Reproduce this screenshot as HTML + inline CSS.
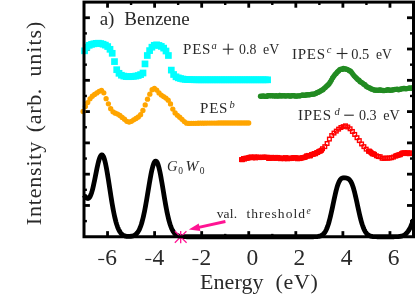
<!DOCTYPE html>
<html><head><meta charset="utf-8"><title>Benzene</title>
<style>html,body{margin:0;padding:0;background:#fff;}body{width:415px;height:296px;overflow:hidden;font-family:"Liberation Serif",serif;}svg text,.t{font-family:"Liberation Serif",serif;}</style>
</head><body>
<svg width="415" height="296" viewBox="0 0 415 296" style="display:block">
<rect width="415" height="296" fill="#fff"/>
<defs><clipPath id="ax"><rect x="84" y="2.1" width="329.5" height="234.65"/></clipPath></defs>
<g stroke="#000" fill="none"><line x1="107.54" y1="236.75" x2="107.54" y2="231.15" stroke-width="2.8"/><line x1="107.54" y1="2.1" x2="107.54" y2="7.7" stroke-width="2.8"/><line x1="131.07" y1="236.75" x2="131.07" y2="233.85" stroke-width="2.4"/><line x1="131.07" y1="2.1" x2="131.07" y2="5" stroke-width="2.4"/><line x1="154.61" y1="236.75" x2="154.61" y2="231.15" stroke-width="2.8"/><line x1="154.61" y1="2.1" x2="154.61" y2="7.7" stroke-width="2.8"/><line x1="178.14" y1="236.75" x2="178.14" y2="233.85" stroke-width="2.4"/><line x1="178.14" y1="2.1" x2="178.14" y2="5" stroke-width="2.4"/><line x1="201.68" y1="236.75" x2="201.68" y2="231.15" stroke-width="2.8"/><line x1="201.68" y1="2.1" x2="201.68" y2="7.7" stroke-width="2.8"/><line x1="225.21" y1="236.75" x2="225.21" y2="233.85" stroke-width="2.4"/><line x1="225.21" y1="2.1" x2="225.21" y2="5" stroke-width="2.4"/><line x1="248.75" y1="236.75" x2="248.75" y2="231.15" stroke-width="2.8"/><line x1="248.75" y1="2.1" x2="248.75" y2="7.7" stroke-width="2.8"/><line x1="272.29" y1="236.75" x2="272.29" y2="233.85" stroke-width="2.4"/><line x1="272.29" y1="2.1" x2="272.29" y2="5" stroke-width="2.4"/><line x1="295.82" y1="236.75" x2="295.82" y2="231.15" stroke-width="2.8"/><line x1="295.82" y1="2.1" x2="295.82" y2="7.7" stroke-width="2.8"/><line x1="319.36" y1="236.75" x2="319.36" y2="233.85" stroke-width="2.4"/><line x1="319.36" y1="2.1" x2="319.36" y2="5" stroke-width="2.4"/><line x1="342.89" y1="236.75" x2="342.89" y2="231.15" stroke-width="2.8"/><line x1="342.89" y1="2.1" x2="342.89" y2="7.7" stroke-width="2.8"/><line x1="366.43" y1="236.75" x2="366.43" y2="233.85" stroke-width="2.4"/><line x1="366.43" y1="2.1" x2="366.43" y2="5" stroke-width="2.4"/><line x1="389.96" y1="236.75" x2="389.96" y2="231.15" stroke-width="2.8"/><line x1="389.96" y1="2.1" x2="389.96" y2="7.7" stroke-width="2.8"/><line x1="84" y1="17.74" x2="89.9" y2="17.74" stroke-width="2.8"/><line x1="413.5" y1="17.74" x2="407" y2="17.74" stroke-width="2.8"/><line x1="84" y1="33.39" x2="86.9" y2="33.39" stroke-width="2.4"/><line x1="413.5" y1="33.39" x2="410" y2="33.39" stroke-width="2.4"/><line x1="84" y1="49.03" x2="89.9" y2="49.03" stroke-width="2.8"/><line x1="413.5" y1="49.03" x2="407" y2="49.03" stroke-width="2.8"/><line x1="84" y1="64.67" x2="86.9" y2="64.67" stroke-width="2.4"/><line x1="413.5" y1="64.67" x2="410" y2="64.67" stroke-width="2.4"/><line x1="84" y1="80.32" x2="89.9" y2="80.32" stroke-width="2.8"/><line x1="413.5" y1="80.32" x2="407" y2="80.32" stroke-width="2.8"/><line x1="84" y1="95.96" x2="86.9" y2="95.96" stroke-width="2.4"/><line x1="413.5" y1="95.96" x2="410" y2="95.96" stroke-width="2.4"/><line x1="84" y1="111.6" x2="89.9" y2="111.6" stroke-width="2.8"/><line x1="413.5" y1="111.6" x2="407" y2="111.6" stroke-width="2.8"/><line x1="84" y1="127.25" x2="86.9" y2="127.25" stroke-width="2.4"/><line x1="413.5" y1="127.25" x2="410" y2="127.25" stroke-width="2.4"/><line x1="84" y1="142.89" x2="89.9" y2="142.89" stroke-width="2.8"/><line x1="413.5" y1="142.89" x2="407" y2="142.89" stroke-width="2.8"/><line x1="84" y1="158.53" x2="86.9" y2="158.53" stroke-width="2.4"/><line x1="413.5" y1="158.53" x2="410" y2="158.53" stroke-width="2.4"/><line x1="84" y1="174.18" x2="89.9" y2="174.18" stroke-width="2.8"/><line x1="413.5" y1="174.18" x2="407" y2="174.18" stroke-width="2.8"/><line x1="84" y1="189.82" x2="86.9" y2="189.82" stroke-width="2.4"/><line x1="413.5" y1="189.82" x2="410" y2="189.82" stroke-width="2.4"/><line x1="84" y1="205.46" x2="89.9" y2="205.46" stroke-width="2.8"/><line x1="413.5" y1="205.46" x2="407" y2="205.46" stroke-width="2.8"/><line x1="84" y1="221.11" x2="86.9" y2="221.11" stroke-width="2.4"/><line x1="413.5" y1="221.11" x2="410" y2="221.11" stroke-width="2.4"/></g>
<path d="M84 195.11 L84.5 195.77 L85 196.41 L85.5 197.01 L86 197.54 L86.5 197.98 L87 198.3 L87.5 198.47 L88 198.49 L88.5 198.33 L89 197.97 L89.5 197.41 L90 196.64 L90.5 195.65 L91 194.43 L91.5 193.01 L92 191.38 L92.5 189.55 L93 187.55 L93.5 185.39 L94 183.1 L94.5 180.7 L95 178.23 L95.5 175.71 L96 173.19 L96.5 170.7 L97 168.28 L97.5 165.95 L98 163.77 L98.5 161.76 L99 159.96 L99.5 158.39 L100 157.08 L100.5 156.07 L101 155.35 L101.5 154.96 L102 154.9 L102.5 155.18 L103 155.79 L103.5 156.73 L104 158 L104.5 159.57 L105 161.43 L105.5 163.57 L106 165.94 L106.5 168.54 L107 171.32 L107.5 174.26 L108 177.33 L108.5 180.49 L109 183.71 L109.5 186.97 L110 190.22 L110.5 193.46 L111 196.64 L111.5 199.75 L112 202.77 L112.5 205.68 L113 208.46 L113.5 211.11 L114 213.61 L114.5 215.95 L115 218.14 L115.5 220.17 L116 222.05 L116.5 223.77 L117 225.33 L117.5 226.76 L118 228.04 L118.5 229.19 L119 230.22 L119.5 231.13 L120 231.94 L120.5 232.64 L121 233.26 L121.5 233.8 L122 234.27 L122.5 234.67 L123 235.01 L123.5 235.3 L124 235.55 L124.5 235.75 L125 235.93 L125.5 236.07 L126 236.18 L126.5 236.27 L127 236.34 L127.5 236.4 L128 236.43 L128.5 236.45 L129 236.46 L129.5 236.45 L130 236.43 L130.5 236.39 L131 236.33 L131.5 236.25 L132 236.16 L132.5 236.03 L133 235.89 L133.5 235.71 L134 235.5 L134.5 235.24 L135 234.94 L135.5 234.59 L136 234.19 L136.5 233.71 L137 233.17 L137.5 232.54 L138 231.83 L138.5 231.02 L139 230.11 L139.5 229.08 L140 227.94 L140.5 226.67 L141 225.26 L141.5 223.72 L142 222.03 L142.5 220.2 L143 218.22 L143.5 216.09 L144 213.82 L144.5 211.41 L145 208.87 L145.5 206.21 L146 203.44 L146.5 200.58 L147 197.64 L147.5 194.65 L148 191.62 L148.5 188.59 L149 185.58 L149.5 182.62 L150 179.74 L150.5 176.96 L151 174.32 L151.5 171.85 L152 169.57 L152.5 167.52 L153 165.72 L153.5 164.18 L154 162.93 L154.5 162 L155 161.37 L155.5 161.08 L156 161.11 L156.5 161.47 L157 162.16 L157.5 163.16 L158 164.46 L158.5 166.06 L159 167.91 L159.5 170.01 L160 172.33 L160.5 174.84 L161 177.5 L161.5 180.31 L162 183.21 L162.5 186.18 L163 189.2 L163.5 192.23 L164 195.25 L164.5 198.23 L165 201.16 L165.5 204 L166 206.75 L166.5 209.39 L167 211.91 L167.5 214.29 L168 216.53 L168.5 218.63 L169 220.58 L169.5 222.38 L170 224.04 L170.5 225.55 L171 226.93 L171.5 228.18 L172 229.3 L172.5 230.3 L173 231.19 L173.5 231.98 L174 232.68 L174.5 233.28 L175 233.82 L175.5 234.28 L176 234.67 L176.5 235.01 L177 235.3 L177.5 235.55 L178 235.76 L178.5 235.94 L179 236.09 L179.5 236.21 L180 236.31 L180.5 236.4 L181 236.47 L181.5 236.52 L182 236.57 L182.5 236.61 L183 236.64 L183.5 236.66 L184 236.68 L184.5 236.7 L185 236.71 L185.5 236.72 L186 236.72 L186.5 236.73 L187 236.74 L187.5 236.74 L188 236.74 L188.5 236.74 L189 236.75 L189.5 236.75 L190 236.75 L190.5 236.75 L191 236.75 L191.5 236.75 L192 236.75 L192.5 236.75 L193 236.75 L193.5 236.75 L194 236.75 L194.5 236.75 L195 236.75 L195.5 236.75 L196 236.75 L196.5 236.75 L197 236.75 L197.5 236.75 L198 236.75 L198.5 236.75 L199 236.75 L199.5 236.75 L200 236.75 L200.5 236.75 L201 236.75 L201.5 236.75 L202 236.75 L202.5 236.75 L203 236.75 L203.5 236.75 L204 236.75 L204.5 236.75 L205 236.75 L205.5 236.75 L206 236.75 L206.5 236.75 L207 236.75 L207.5 236.75 L208 236.75 L208.5 236.75 L209 236.75 L209.5 236.75 L210 236.75 L210.5 236.75 L211 236.75 L211.5 236.75 L212 236.75 L212.5 236.75 L213 236.75 L213.5 236.75 L214 236.75 L214.5 236.75 L215 236.75 L215.5 236.75 L216 236.75 L216.5 236.75 L217 236.75 L217.5 236.75 L218 236.75 L218.5 236.75 L219 236.75 L219.5 236.75 L220 236.75 L220.5 236.75 L221 236.75 L221.5 236.75 L222 236.75 L222.5 236.75 L223 236.75 L223.5 236.75 L224 236.75 L224.5 236.75 L225 236.75 L225.5 236.75 L226 236.75 L226.5 236.75 L227 236.75 L227.5 236.75 L228 236.75 L228.5 236.75 L229 236.75 L229.5 236.75 L230 236.75 L230.5 236.75 L231 236.75 L231.5 236.75 L232 236.75 L232.5 236.75 L233 236.75 L233.5 236.75 L234 236.75 L234.5 236.75 L235 236.75 L235.5 236.75 L236 236.75 L236.5 236.75 L237 236.75 L237.5 236.75 L238 236.75 L238.5 236.75 L239 236.75 L239.5 236.75 L240 236.75 L240.5 236.75 L241 236.75 L241.5 236.75 L242 236.75 L242.5 236.75 L243 236.75 L243.5 236.75 L244 236.75 L244.5 236.75 L245 236.75 L245.5 236.75 L246 236.75 L246.5 236.75 L247 236.75 L247.5 236.75 L248 236.75 L248.5 236.75 L249 236.75 L249.5 236.75 L250 236.75 L250.5 236.75 L251 236.75 L251.5 236.75 L252 236.75 L252.5 236.75 L253 236.75 L253.5 236.75 L254 236.75 L254.5 236.75 L255 236.75 L255.5 236.75 L256 236.75 L256.5 236.75 L257 236.75 L257.5 236.75 L258 236.75 L258.5 236.75 L259 236.75 L259.5 236.75 L260 236.75 L260.5 236.75 L261 236.75 L261.5 236.75 L262 236.75 L262.5 236.75 L263 236.75 L263.5 236.75 L264 236.75 L264.5 236.75 L265 236.75 L265.5 236.75 L266 236.75 L266.5 236.75 L267 236.75 L267.5 236.75 L268 236.75 L268.5 236.75 L269 236.75 L269.5 236.75 L270 236.75 L270.5 236.75 L271 236.75 L271.5 236.75 L272 236.75 L272.5 236.75 L273 236.75 L273.5 236.75 L274 236.75 L274.5 236.75 L275 236.75 L275.5 236.75 L276 236.75 L276.5 236.75 L277 236.75 L277.5 236.75 L278 236.75 L278.5 236.75 L279 236.75 L279.5 236.75 L280 236.75 L280.5 236.75 L281 236.75 L281.5 236.75 L282 236.75 L282.5 236.75 L283 236.75 L283.5 236.75 L284 236.75 L284.5 236.75 L285 236.75 L285.5 236.75 L286 236.75 L286.5 236.75 L287 236.75 L287.5 236.75 L288 236.75 L288.5 236.75 L289 236.75 L289.5 236.75 L290 236.75 L290.5 236.75 L291 236.75 L291.5 236.75 L292 236.75 L292.5 236.75 L293 236.75 L293.5 236.75 L294 236.75 L294.5 236.75 L295 236.75 L295.5 236.75 L296 236.75 L296.5 236.75 L297 236.75 L297.5 236.75 L298 236.75 L298.5 236.75 L299 236.75 L299.5 236.75 L300 236.75 L300.5 236.75 L301 236.75 L301.5 236.75 L302 236.75 L302.5 236.75 L303 236.75 L303.5 236.75 L304 236.75 L304.5 236.75 L305 236.75 L305.5 236.75 L306 236.75 L306.5 236.75 L307 236.75 L307.5 236.75 L308 236.75 L308.5 236.75 L309 236.75 L309.5 236.75 L310 236.75 L310.5 236.75 L311 236.75 L311.5 236.74 L312 236.74 L312.5 236.74 L313 236.73 L313.5 236.73 L314 236.72 L314.5 236.71 L315 236.7 L315.5 236.68 L316 236.66 L316.5 236.63 L317 236.59 L317.5 236.55 L318 236.49 L318.5 236.42 L319 236.33 L319.5 236.22 L320 236.08 L320.5 235.92 L321 235.72 L321.5 235.47 L322 235.19 L322.5 234.84 L323 234.44 L323.5 233.96 L324 233.41 L324.5 232.77 L325 232.04 L325.5 231.21 L326 230.26 L326.5 229.2 L327 228.02 L327.5 226.71 L328 225.27 L328.5 223.7 L329 222 L329.5 220.18 L330 218.24 L330.5 216.18 L331 214.03 L331.5 211.8 L332 209.49 L332.5 207.14 L333 204.76 L333.5 202.37 L334 200 L334.5 197.68 L335 195.42 L335.5 193.24 L336 191.17 L336.5 189.23 L337 187.44 L337.5 185.79 L338 184.31 L338.5 183 L339 181.86 L339.5 180.89 L340 180.07 L340.5 179.41 L341 178.88 L341.5 178.48 L342 178.19 L342.5 177.99 L343 177.86 L343.5 177.79 L344 177.77 L344.5 177.78 L345 177.82 L345.5 177.89 L346 177.97 L346.5 178.08 L347 178.22 L347.5 178.39 L348 178.62 L348.5 178.91 L349 179.28 L349.5 179.74 L350 180.32 L350.5 181.02 L351 181.85 L351.5 182.83 L352 183.97 L352.5 185.26 L353 186.71 L353.5 188.32 L354 190.07 L354.5 191.96 L355 193.97 L355.5 196.09 L356 198.29 L356.5 200.55 L357 202.86 L357.5 205.18 L358 207.51 L358.5 209.81 L359 212.06 L359.5 214.25 L360 216.36 L360.5 218.38 L361 220.29 L361.5 222.08 L362 223.76 L362.5 225.31 L363 226.73 L363.5 228.03 L364 229.2 L364.5 230.25 L365 231.19 L365.5 232.02 L366 232.75 L366.5 233.39 L367 233.94 L367.5 234.42 L368 234.82 L368.5 235.17 L369 235.46 L369.5 235.7 L370 235.91 L370.5 236.07 L371 236.21 L371.5 236.32 L372 236.41 L372.5 236.49 L373 236.54 L373.5 236.59 L374 236.63 L374.5 236.66 L375 236.68 L375.5 236.7 L376 236.71 L376.5 236.72 L377 236.73 L377.5 236.73 L378 236.74 L378.5 236.74 L379 236.74 L379.5 236.75 L380 236.75 L380.5 236.75 L381 236.75 L381.5 236.75 L382 236.75 L382.5 236.75 L383 236.75 L383.5 236.75 L384 236.75 L384.5 236.75 L385 236.75 L385.5 236.75 L386 236.75 L386.5 236.75 L387 236.75 L387.5 236.75 L388 236.75 L388.5 236.75 L389 236.75 L389.5 236.75 L390 236.75 L390.5 236.75 L391 236.74 L391.5 236.74 L392 236.74 L392.5 236.74 L393 236.74 L393.5 236.73 L394 236.73 L394.5 236.72 L395 236.71 L395.5 236.7 L396 236.68 L396.5 236.67 L397 236.65 L397.5 236.62 L398 236.59 L398.5 236.55 L399 236.5 L399.5 236.44 L400 236.37 L400.5 236.29 L401 236.19 L401.5 236.08 L402 235.94 L402.5 235.78 L403 235.59 L403.5 235.37 L404 235.12 L404.5 234.83 L405 234.5 L405.5 234.12 L406 233.7 L406.5 233.22 L407 232.68 L407.5 232.08 L408 231.41 L408.5 230.68 L409 229.88 L409.5 229 L410 228.05 L410.5 227.03 L411 225.93 L411.5 224.76 L412 223.53 L412.5 222.23 L413 220.87 L413.5 219.46" fill="none" stroke="#000" stroke-width="4.8" stroke-linejoin="round"/>
<g fill="#00ffff"><rect x="81.25" y="47.45" width="6.7" height="6.7"/><rect x="83.56" y="43.71" width="6.7" height="6.7"/><rect x="85.87" y="41.95" width="6.7" height="6.7"/><rect x="88.18" y="41.03" width="6.7" height="6.7"/><rect x="90.49" y="40.47" width="6.7" height="6.7"/><rect x="92.8" y="40.02" width="6.7" height="6.7"/><rect x="95.1" y="39.85" width="6.7" height="6.7"/><rect x="97.41" y="40.2" width="6.7" height="6.7"/><rect x="99.72" y="40.87" width="6.7" height="6.7"/><rect x="102.03" y="41.78" width="6.7" height="6.7"/><rect x="104.34" y="43.2" width="6.7" height="6.7"/><rect x="106.65" y="45.95" width="6.7" height="6.7"/><rect x="108.85" y="49.95" width="6.7" height="6.7"/><rect x="111.15" y="58.25" width="6.7" height="6.7"/><rect x="113.35" y="66.35" width="6.7" height="6.7"/><rect x="115.65" y="69.95" width="6.7" height="6.7"/><rect x="118.05" y="71.88" width="6.7" height="6.7"/><rect x="120.45" y="72.73" width="6.7" height="6.7"/><rect x="122.85" y="73.25" width="6.7" height="6.7"/><rect x="125.25" y="73.34" width="6.7" height="6.7"/><rect x="127.65" y="73.22" width="6.7" height="6.7"/><rect x="130.05" y="73.01" width="6.7" height="6.7"/><rect x="132.45" y="72.71" width="6.7" height="6.7"/><rect x="134.85" y="72.18" width="6.7" height="6.7"/><rect x="137.25" y="71.25" width="6.7" height="6.7"/><rect x="139.65" y="69.65" width="6.7" height="6.7"/><rect x="141.65" y="60.55" width="6.7" height="6.7"/><rect x="143.95" y="52.15" width="6.7" height="6.7"/><rect x="146.25" y="47.25" width="6.7" height="6.7"/><rect x="148.55" y="43.85" width="6.7" height="6.7"/><rect x="150.9" y="41.96" width="6.7" height="6.7"/><rect x="153.25" y="41.48" width="6.7" height="6.7"/><rect x="155.6" y="42.07" width="6.7" height="6.7"/><rect x="157.95" y="43.07" width="6.7" height="6.7"/><rect x="160.3" y="44.78" width="6.7" height="6.7"/><rect x="162.65" y="47.65" width="6.7" height="6.7"/><rect x="165.05" y="52.15" width="6.7" height="6.7"/><rect x="167.95" y="66.75" width="6.7" height="6.7"/><rect x="170.25" y="71.15" width="6.7" height="6.7"/><rect x="172.65" y="73.45" width="6.7" height="6.7"/><rect x="174.94" y="74.49" width="6.7" height="6.7"/><rect x="177.23" y="75.19" width="6.7" height="6.7"/><rect x="179.52" y="75.69" width="6.7" height="6.7"/><rect x="181.81" y="76.04" width="6.7" height="6.7"/><rect x="184.1" y="76.19" width="6.7" height="6.7"/><rect x="186.39" y="76.27" width="6.7" height="6.7"/><rect x="188.68" y="76.34" width="6.7" height="6.7"/><rect x="190.97" y="76.39" width="6.7" height="6.7"/><rect x="193.26" y="76.43" width="6.7" height="6.7"/><rect x="195.55" y="76.45" width="6.7" height="6.7"/><rect x="197.84" y="76.45" width="6.7" height="6.7"/><rect x="200.13" y="76.45" width="6.7" height="6.7"/><rect x="202.42" y="76.45" width="6.7" height="6.7"/><rect x="204.71" y="76.45" width="6.7" height="6.7"/><rect x="207" y="76.45" width="6.7" height="6.7"/><rect x="209.29" y="76.45" width="6.7" height="6.7"/><rect x="211.58" y="76.45" width="6.7" height="6.7"/><rect x="213.87" y="76.45" width="6.7" height="6.7"/><rect x="216.16" y="76.45" width="6.7" height="6.7"/><rect x="218.45" y="76.45" width="6.7" height="6.7"/><rect x="220.74" y="76.45" width="6.7" height="6.7"/><rect x="223.03" y="76.45" width="6.7" height="6.7"/><rect x="225.32" y="76.45" width="6.7" height="6.7"/><rect x="227.61" y="76.45" width="6.7" height="6.7"/><rect x="229.9" y="76.45" width="6.7" height="6.7"/><rect x="232.19" y="76.45" width="6.7" height="6.7"/><rect x="234.48" y="76.45" width="6.7" height="6.7"/><rect x="236.77" y="76.45" width="6.7" height="6.7"/><rect x="239.06" y="76.45" width="6.7" height="6.7"/><rect x="241.35" y="76.45" width="6.7" height="6.7"/><rect x="243.64" y="76.45" width="6.7" height="6.7"/><rect x="245.93" y="76.45" width="6.7" height="6.7"/><rect x="248.22" y="76.45" width="6.7" height="6.7"/><rect x="250.51" y="76.45" width="6.7" height="6.7"/><rect x="252.8" y="76.45" width="6.7" height="6.7"/><rect x="255.09" y="76.45" width="6.7" height="6.7"/><rect x="257.38" y="76.45" width="6.7" height="6.7"/><rect x="259.67" y="76.45" width="6.7" height="6.7"/><rect x="261.96" y="76.45" width="6.7" height="6.7"/><rect x="264.25" y="76.45" width="6.7" height="6.7"/></g>
<g fill="#ffa500"><circle cx="83.1" cy="111.5" r="2.65"/><circle cx="85.4" cy="106.62" r="2.65"/><circle cx="87.7" cy="102.55" r="2.65"/><circle cx="90" cy="98.81" r="2.65"/><circle cx="92.3" cy="96.23" r="2.65"/><circle cx="94.6" cy="94.41" r="2.65"/><circle cx="96.9" cy="92.91" r="2.65"/><circle cx="99.2" cy="91.37" r="2.65"/><circle cx="101.5" cy="90.31" r="2.65"/><circle cx="103.8" cy="92.83" r="2.65"/><circle cx="106.1" cy="98.64" r="2.65"/><circle cx="108.4" cy="103.87" r="2.65"/><circle cx="110.7" cy="108.63" r="2.65"/><circle cx="113" cy="111.82" r="2.65"/><circle cx="115.3" cy="113.14" r="2.65"/><circle cx="117.6" cy="114.07" r="2.65"/><circle cx="119.9" cy="115.5" r="2.65"/><circle cx="122.2" cy="117.4" r="2.65"/><circle cx="124.5" cy="119.26" r="2.65"/><circle cx="126.8" cy="121.3" r="2.65"/><circle cx="129.1" cy="122.08" r="2.65"/><circle cx="131.4" cy="121.28" r="2.65"/><circle cx="133.7" cy="119.87" r="2.65"/><circle cx="136" cy="118.52" r="2.65"/><circle cx="138.3" cy="117.02" r="2.65"/><circle cx="140.6" cy="114.72" r="2.65"/><circle cx="142.9" cy="110.5" r="2.65"/><circle cx="145.2" cy="104.9" r="2.65"/><circle cx="147.5" cy="99.19" r="2.65"/><circle cx="149.8" cy="94.14" r="2.65"/><circle cx="152.1" cy="89.76" r="2.65"/><circle cx="154.4" cy="88.28" r="2.65"/><circle cx="156.7" cy="90.1" r="2.65"/><circle cx="159" cy="92.95" r="2.65"/><circle cx="161.3" cy="95.08" r="2.65"/><circle cx="163.6" cy="96.59" r="2.65"/><circle cx="165.9" cy="98.11" r="2.65"/><circle cx="168.2" cy="100.18" r="2.65"/><circle cx="170.5" cy="103.97" r="2.65"/><circle cx="172.8" cy="109.07" r="2.65"/><circle cx="175.1" cy="112.95" r="2.65"/><circle cx="177.4" cy="115.32" r="2.65"/><circle cx="179.7" cy="117.25" r="2.65"/><circle cx="182" cy="119.32" r="2.65"/><circle cx="184.3" cy="121.6" r="2.65"/><circle cx="186.6" cy="123.18" r="2.65"/><circle cx="188.9" cy="123.4" r="2.65"/><circle cx="191.2" cy="123.37" r="2.65"/><circle cx="193.5" cy="123.33" r="2.65"/><circle cx="195.8" cy="123.29" r="2.65"/><circle cx="198.1" cy="123.24" r="2.65"/><circle cx="200.4" cy="123.21" r="2.65"/><circle cx="202.7" cy="123.18" r="2.65"/><circle cx="205" cy="123.15" r="2.65"/><circle cx="207.3" cy="123.12" r="2.65"/><circle cx="209.6" cy="123.1" r="2.65"/><circle cx="211.9" cy="123.07" r="2.65"/><circle cx="214.2" cy="123.05" r="2.65"/><circle cx="216.5" cy="123.03" r="2.65"/><circle cx="218.8" cy="123.02" r="2.65"/><circle cx="221.1" cy="123.01" r="2.65"/><circle cx="223.4" cy="123" r="2.65"/><circle cx="225.7" cy="123" r="2.65"/><circle cx="228" cy="123" r="2.65"/><circle cx="230.3" cy="123" r="2.65"/><circle cx="232.6" cy="123" r="2.65"/><circle cx="234.9" cy="123" r="2.65"/><circle cx="237.2" cy="123" r="2.65"/><circle cx="239.5" cy="123" r="2.65"/><circle cx="241.8" cy="123" r="2.65"/><circle cx="244.1" cy="123" r="2.65"/><circle cx="246.4" cy="123" r="2.65"/><circle cx="248.7" cy="123" r="2.65"/></g>
<g fill="#228b22"><circle cx="260.5" cy="96.25" r="2.65"/><circle cx="261.7" cy="96.36" r="2.65"/><circle cx="262.9" cy="95.95" r="2.65"/><circle cx="264.1" cy="96.12" r="2.65"/><circle cx="265.3" cy="96.43" r="2.65"/><circle cx="266.5" cy="96.41" r="2.65"/><circle cx="267.7" cy="95.69" r="2.65"/><circle cx="268.91" cy="95.75" r="2.65"/><circle cx="270.11" cy="95.6" r="2.65"/><circle cx="271.31" cy="95.94" r="2.65"/><circle cx="272.51" cy="95.56" r="2.65"/><circle cx="273.71" cy="95.94" r="2.65"/><circle cx="274.91" cy="96.1" r="2.65"/><circle cx="276.11" cy="95.77" r="2.65"/><circle cx="277.31" cy="96.12" r="2.65"/><circle cx="278.51" cy="96.04" r="2.65"/><circle cx="279.71" cy="95.52" r="2.65"/><circle cx="280.91" cy="96" r="2.65"/><circle cx="282.11" cy="95.73" r="2.65"/><circle cx="283.31" cy="95.87" r="2.65"/><circle cx="284.52" cy="95.74" r="2.65"/><circle cx="285.72" cy="96.11" r="2.65"/><circle cx="286.92" cy="95.87" r="2.65"/><circle cx="288.12" cy="95.61" r="2.65"/><circle cx="289.32" cy="95.95" r="2.65"/><circle cx="290.52" cy="96.15" r="2.65"/><circle cx="291.72" cy="95.7" r="2.65"/><circle cx="292.92" cy="95.58" r="2.65"/><circle cx="294.12" cy="95.69" r="2.65"/><circle cx="295.32" cy="96.13" r="2.65"/><circle cx="296.52" cy="96.11" r="2.65"/><circle cx="297.72" cy="95.78" r="2.65"/><circle cx="298.93" cy="95.92" r="2.65"/><circle cx="300.13" cy="95.8" r="2.65"/><circle cx="301.33" cy="95.32" r="2.65"/><circle cx="302.53" cy="95" r="2.65"/><circle cx="303.73" cy="95.43" r="2.65"/><circle cx="304.93" cy="95.26" r="2.65"/><circle cx="306.13" cy="95" r="2.65"/><circle cx="307.33" cy="94.77" r="2.65"/><circle cx="308.53" cy="94.82" r="2.65"/><circle cx="309.73" cy="94.74" r="2.65"/><circle cx="310.93" cy="94.4" r="2.65"/><circle cx="312.13" cy="94.2" r="2.65"/><circle cx="313.33" cy="94.05" r="2.65"/><circle cx="314.54" cy="94.06" r="2.65"/><circle cx="315.74" cy="93.4" r="2.65"/><circle cx="316.94" cy="92.67" r="2.65"/><circle cx="318.14" cy="92.16" r="2.65"/><circle cx="319.34" cy="91.77" r="2.65"/><circle cx="320.54" cy="90.96" r="2.65"/><circle cx="321.74" cy="90.26" r="2.65"/><circle cx="322.94" cy="89.67" r="2.65"/><circle cx="324.14" cy="88.29" r="2.65"/><circle cx="325.34" cy="87.52" r="2.65"/><circle cx="326.54" cy="86.2" r="2.65"/><circle cx="327.74" cy="85.22" r="2.65"/><circle cx="328.94" cy="83.89" r="2.65"/><circle cx="330.15" cy="82.13" r="2.65"/><circle cx="331.35" cy="80.17" r="2.65"/><circle cx="332.55" cy="77.89" r="2.65"/><circle cx="333.75" cy="76.33" r="2.65"/><circle cx="334.95" cy="74.56" r="2.65"/><circle cx="336.15" cy="73.43" r="2.65"/><circle cx="337.35" cy="71.94" r="2.65"/><circle cx="338.55" cy="70.93" r="2.65"/><circle cx="339.75" cy="69.69" r="2.65"/><circle cx="340.95" cy="69.27" r="2.65"/><circle cx="342.15" cy="69.47" r="2.65"/><circle cx="343.35" cy="68.47" r="2.65"/><circle cx="344.56" cy="68.78" r="2.65"/><circle cx="345.76" cy="68.94" r="2.65"/><circle cx="346.96" cy="69.46" r="2.65"/><circle cx="348.16" cy="69.87" r="2.65"/><circle cx="349.36" cy="70.71" r="2.65"/><circle cx="350.56" cy="71.13" r="2.65"/><circle cx="351.76" cy="72.53" r="2.65"/><circle cx="352.96" cy="74.3" r="2.65"/><circle cx="354.16" cy="75.86" r="2.65"/><circle cx="355.36" cy="77.08" r="2.65"/><circle cx="356.56" cy="78.18" r="2.65"/><circle cx="357.76" cy="79.55" r="2.65"/><circle cx="358.96" cy="80.14" r="2.65"/><circle cx="360.17" cy="81.72" r="2.65"/><circle cx="361.37" cy="82.34" r="2.65"/><circle cx="362.57" cy="83.09" r="2.65"/><circle cx="363.77" cy="84.15" r="2.65"/><circle cx="364.97" cy="84.65" r="2.65"/><circle cx="366.17" cy="86.13" r="2.65"/><circle cx="367.37" cy="86.88" r="2.65"/><circle cx="368.57" cy="87.54" r="2.65"/><circle cx="369.77" cy="87.99" r="2.65"/><circle cx="370.97" cy="88.87" r="2.65"/><circle cx="372.17" cy="89.22" r="2.65"/><circle cx="373.37" cy="89.56" r="2.65"/><circle cx="374.57" cy="90.16" r="2.65"/><circle cx="375.78" cy="90.21" r="2.65"/><circle cx="376.98" cy="90.15" r="2.65"/><circle cx="378.18" cy="90.35" r="2.65"/><circle cx="379.38" cy="90.02" r="2.65"/><circle cx="380.58" cy="90" r="2.65"/><circle cx="381.78" cy="90.46" r="2.65"/><circle cx="382.98" cy="90.49" r="2.65"/><circle cx="384.18" cy="90.62" r="2.65"/><circle cx="385.38" cy="90.47" r="2.65"/><circle cx="386.58" cy="90.16" r="2.65"/><circle cx="387.78" cy="89.7" r="2.65"/><circle cx="388.98" cy="90.01" r="2.65"/><circle cx="390.19" cy="90.36" r="2.65"/><circle cx="391.39" cy="90.18" r="2.65"/><circle cx="392.59" cy="89.85" r="2.65"/><circle cx="393.79" cy="89.76" r="2.65"/><circle cx="394.99" cy="89.45" r="2.65"/><circle cx="396.19" cy="89.32" r="2.65"/><circle cx="397.39" cy="89.11" r="2.65"/><circle cx="398.59" cy="89.73" r="2.65"/><circle cx="399.79" cy="89.38" r="2.65"/><circle cx="400.99" cy="88.8" r="2.65"/><circle cx="402.19" cy="88.92" r="2.65"/><circle cx="403.39" cy="88.46" r="2.65"/><circle cx="404.59" cy="88.48" r="2.65"/><circle cx="405.8" cy="88.81" r="2.65"/><circle cx="407" cy="88.6" r="2.65"/><circle cx="408.2" cy="88.3" r="2.65"/><circle cx="409.4" cy="87.97" r="2.65"/><circle cx="410.6" cy="88.16" r="2.65"/><circle cx="411.8" cy="88.27" r="2.65"/><circle cx="413" cy="87.64" r="2.65"/></g>
<g fill="none" stroke="#ff0000" stroke-width="1.4"><rect x="239.7" y="157.8" width="3.6" height="3.6"/><rect x="240.7" y="157.86" width="3.6" height="3.6"/><rect x="241.7" y="156.72" width="3.6" height="3.6"/><rect x="242.7" y="157.27" width="3.6" height="3.6"/><rect x="243.7" y="156.49" width="3.6" height="3.6"/><rect x="244.7" y="156.43" width="3.6" height="3.6"/><rect x="245.7" y="156.43" width="3.6" height="3.6"/><rect x="246.7" y="155.96" width="3.6" height="3.6"/><rect x="247.7" y="155.59" width="3.6" height="3.6"/><rect x="248.7" y="155.41" width="3.6" height="3.6"/><rect x="249.7" y="155.24" width="3.6" height="3.6"/><rect x="250.7" y="156" width="3.6" height="3.6"/><rect x="251.7" y="155.61" width="3.6" height="3.6"/><rect x="252.7" y="155.25" width="3.6" height="3.6"/><rect x="253.7" y="156.1" width="3.6" height="3.6"/><rect x="254.7" y="155.35" width="3.6" height="3.6"/><rect x="255.7" y="155.51" width="3.6" height="3.6"/><rect x="256.7" y="155.36" width="3.6" height="3.6"/><rect x="257.7" y="155.76" width="3.6" height="3.6"/><rect x="258.7" y="155.7" width="3.6" height="3.6"/><rect x="259.7" y="155.74" width="3.6" height="3.6"/><rect x="260.7" y="155.38" width="3.6" height="3.6"/><rect x="261.7" y="155.45" width="3.6" height="3.6"/><rect x="262.7" y="155.47" width="3.6" height="3.6"/><rect x="263.7" y="155.62" width="3.6" height="3.6"/><rect x="264.7" y="155.47" width="3.6" height="3.6"/><rect x="265.7" y="155.56" width="3.6" height="3.6"/><rect x="266.7" y="156.57" width="3.6" height="3.6"/><rect x="267.7" y="156.62" width="3.6" height="3.6"/><rect x="268.7" y="155.72" width="3.6" height="3.6"/><rect x="269.7" y="155.55" width="3.6" height="3.6"/><rect x="270.7" y="155.79" width="3.6" height="3.6"/><rect x="271.7" y="156.41" width="3.6" height="3.6"/><rect x="272.7" y="156.52" width="3.6" height="3.6"/><rect x="273.7" y="155.64" width="3.6" height="3.6"/><rect x="274.7" y="156.33" width="3.6" height="3.6"/><rect x="275.7" y="155.65" width="3.6" height="3.6"/><rect x="276.7" y="156.29" width="3.6" height="3.6"/><rect x="277.7" y="156.46" width="3.6" height="3.6"/><rect x="278.7" y="156.89" width="3.6" height="3.6"/><rect x="279.7" y="156.03" width="3.6" height="3.6"/><rect x="280.7" y="156.7" width="3.6" height="3.6"/><rect x="281.7" y="156.79" width="3.6" height="3.6"/><rect x="282.7" y="156.87" width="3.6" height="3.6"/><rect x="283.7" y="155.78" width="3.6" height="3.6"/><rect x="284.7" y="156.34" width="3.6" height="3.6"/><rect x="285.7" y="156.97" width="3.6" height="3.6"/><rect x="286.7" y="156.27" width="3.6" height="3.6"/><rect x="287.7" y="156.77" width="3.6" height="3.6"/><rect x="288.7" y="156.46" width="3.6" height="3.6"/><rect x="289.7" y="156.73" width="3.6" height="3.6"/><rect x="290.7" y="156.38" width="3.6" height="3.6"/><rect x="291.7" y="155.83" width="3.6" height="3.6"/><rect x="292.7" y="155.9" width="3.6" height="3.6"/><rect x="293.7" y="155.93" width="3.6" height="3.6"/><rect x="294.7" y="156.1" width="3.6" height="3.6"/><rect x="295.7" y="156.96" width="3.6" height="3.6"/><rect x="296.7" y="156.56" width="3.6" height="3.6"/><rect x="297.7" y="156.78" width="3.6" height="3.6"/><rect x="298.7" y="156.42" width="3.6" height="3.6"/><rect x="299.7" y="156.17" width="3.6" height="3.6"/><rect x="300.7" y="155.94" width="3.6" height="3.6"/><rect x="301.7" y="155.78" width="3.6" height="3.6"/><rect x="302.7" y="155.53" width="3.6" height="3.6"/><rect x="303.7" y="155.21" width="3.6" height="3.6"/><rect x="304.7" y="154.14" width="3.6" height="3.6"/><rect x="305.7" y="154.25" width="3.6" height="3.6"/><rect x="306.7" y="153.64" width="3.6" height="3.6"/><rect x="307.7" y="154" width="3.6" height="3.6"/><rect x="308.7" y="154" width="3.6" height="3.6"/><rect x="309.7" y="152.77" width="3.6" height="3.6"/><rect x="310.7" y="152.56" width="3.6" height="3.6"/><rect x="311.7" y="152.36" width="3.6" height="3.6"/><rect x="312.7" y="151.77" width="3.6" height="3.6"/><rect x="313.7" y="151.95" width="3.6" height="3.6"/><rect x="314.7" y="150.91" width="3.6" height="3.6"/><rect x="315.7" y="150.7" width="3.6" height="3.6"/><rect x="316.7" y="149.94" width="3.6" height="3.6"/><rect x="317.7" y="149.42" width="3.6" height="3.6"/><rect x="318.7" y="149.19" width="3.6" height="3.6"/><rect x="319.7" y="148.45" width="3.6" height="3.6"/><rect x="320.7" y="146.93" width="3.6" height="3.6"/><rect x="323" y="144.85" width="3.6" height="3.6"/><rect x="325.3" y="141.72" width="3.6" height="3.6"/><rect x="327.6" y="137.26" width="3.6" height="3.6"/><rect x="329.9" y="133.74" width="3.6" height="3.6"/><rect x="332.2" y="131.26" width="3.6" height="3.6"/><rect x="334.5" y="129.32" width="3.6" height="3.6"/><rect x="336.8" y="127.34" width="3.6" height="3.6"/><rect x="339.1" y="125.72" width="3.6" height="3.6"/><rect x="341.4" y="124.83" width="3.6" height="3.6"/><rect x="343.7" y="124.04" width="3.6" height="3.6"/><rect x="346" y="125.19" width="3.6" height="3.6"/><rect x="348.3" y="126.98" width="3.6" height="3.6"/><rect x="350.6" y="129.65" width="3.6" height="3.6"/><rect x="352.9" y="132.65" width="3.6" height="3.6"/><rect x="355.2" y="135.91" width="3.6" height="3.6"/><rect x="357.5" y="138.81" width="3.6" height="3.6"/><rect x="359.8" y="142.15" width="3.6" height="3.6"/><rect x="362.1" y="144.83" width="3.6" height="3.6"/><rect x="364.4" y="147.34" width="3.6" height="3.6"/><rect x="366.7" y="149.47" width="3.6" height="3.6"/><rect x="367.7" y="149.34" width="3.6" height="3.6"/><rect x="368.7" y="150.22" width="3.6" height="3.6"/><rect x="369.7" y="151.17" width="3.6" height="3.6"/><rect x="370.7" y="152.04" width="3.6" height="3.6"/><rect x="371.7" y="152.1" width="3.6" height="3.6"/><rect x="372.7" y="152.58" width="3.6" height="3.6"/><rect x="374.6" y="154" width="3.6" height="3.6"/><rect x="376.5" y="154.75" width="3.6" height="3.6"/><rect x="378.4" y="154.91" width="3.6" height="3.6"/><rect x="380.3" y="156.51" width="3.6" height="3.6"/><rect x="382.2" y="156.53" width="3.6" height="3.6"/><rect x="384.1" y="156.23" width="3.6" height="3.6"/><rect x="386" y="156.44" width="3.6" height="3.6"/><rect x="387.9" y="156.16" width="3.6" height="3.6"/><rect x="389.8" y="155.91" width="3.6" height="3.6"/><rect x="391.7" y="155.28" width="3.6" height="3.6"/><rect x="393.6" y="154.3" width="3.6" height="3.6"/><rect x="394.6" y="153.94" width="3.6" height="3.6"/><rect x="395.6" y="153.57" width="3.6" height="3.6"/><rect x="396.6" y="153.22" width="3.6" height="3.6"/><rect x="397.6" y="152.96" width="3.6" height="3.6"/><rect x="398.6" y="152.87" width="3.6" height="3.6"/><rect x="399.6" y="151.84" width="3.6" height="3.6"/><rect x="400.6" y="151.23" width="3.6" height="3.6"/><rect x="401.6" y="151.22" width="3.6" height="3.6"/><rect x="402.6" y="151.09" width="3.6" height="3.6"/><rect x="403.6" y="151.24" width="3.6" height="3.6"/><rect x="404.6" y="151.78" width="3.6" height="3.6"/><rect x="405.6" y="150.89" width="3.6" height="3.6"/><rect x="406.6" y="151.39" width="3.6" height="3.6"/><rect x="407.6" y="151.89" width="3.6" height="3.6"/><rect x="408.6" y="151.33" width="3.6" height="3.6"/><rect x="409.6" y="151.22" width="3.6" height="3.6"/></g>
<path d="M180.7 236.9 L180.7 230.9 M180.7 236.9 L180.7 243.2 M180.7 236.9 L186.43 231.17 M180.7 236.9 L174.97 231.17 M180.7 236.9 L174.83 242.77 M180.7 236.9 L186.57 242.77 M180.7 236.9 L186.7 236.9 M180.7 236.9 L174.7 236.9" stroke="#ff1493" stroke-width="1.3" fill="none"/>
<rect x="84" y="2.1" width="329.5" height="234.65" fill="none" stroke="#000" stroke-width="3"/>
<line x1="225.4" y1="221.5" x2="197.59" y2="227.66" stroke="#ff1493" stroke-width="3"/>
<polygon points="188.8,229.6 198.7,223.42 200.38,231.03" fill="#ff1493"/>
<g stroke="#292929" stroke-width="1.1" fill="none"><line x1="98.24" y1="259.5" x2="104.24" y2="259.5" stroke-width="1.2"/><line x1="145.31" y1="259.5" x2="151.31" y2="259.5" stroke-width="1.2"/><line x1="192.38" y1="259.5" x2="198.38" y2="259.5" stroke-width="1.2"/><line x1="222.8" y1="49.2" x2="233.6" y2="49.2"/><line x1="228.2" y1="43.8" x2="228.2" y2="54.6"/><line x1="336.7" y1="53.5" x2="347.5" y2="53.5"/><line x1="342.1" y1="48.1" x2="342.1" y2="58.9"/><line x1="344.2" y1="115.2" x2="353.8" y2="115.2"/></g>
<g fill="#292929" class="t" style="opacity:0.999"><text x="105.34" y="265" font-size="23.5" text-anchor="start" >6</text><text x="152.41" y="265" font-size="23.5" text-anchor="start" >4</text><text x="199.48" y="265" font-size="23.5" text-anchor="start" >2</text><text x="246.55" y="265" font-size="23.5" text-anchor="start" >0</text><text x="293.62" y="265" font-size="23.5" text-anchor="start" >2</text><text x="340.69" y="265" font-size="23.5" text-anchor="start" >4</text><text x="387.76" y="265" font-size="23.5" text-anchor="start" >6</text><text x="199.9" y="288.9" font-size="22" text-anchor="start" textLength="63.6" lengthAdjust="spacing" >Energy</text><text x="275.6" y="288.9" font-size="22" text-anchor="start" textLength="42.2" lengthAdjust="spacing" >(eV)</text><text transform="translate(40.5 225.2) rotate(-90)" font-size="22" textLength="83.5" lengthAdjust="spacing">Intensity</text><text transform="translate(40.5 132.2) rotate(-90)" font-size="22" textLength="43.5" lengthAdjust="spacing">(arb.</text><text transform="translate(40.5 76.6) rotate(-90)" font-size="22" textLength="55" lengthAdjust="spacing">units)</text><text x="99.7" y="25.4" font-size="19" text-anchor="start" >a)</text><text x="124.3" y="25.4" font-size="19" text-anchor="start" >Benzene</text><text x="183.1" y="54.2" font-size="15" text-anchor="start" textLength="27.3" lengthAdjust="spacing" >PES</text><text x="211.4" y="49" font-size="10.5" text-anchor="start" font-style="italic">a</text><text x="239.1" y="54.2" font-size="13.8" text-anchor="start" >0.8</text><text x="263" y="54.2" font-size="13.9" text-anchor="start" >eV</text><text x="292.1" y="58.5" font-size="15" text-anchor="start" textLength="33" lengthAdjust="spacing" >IPES</text><text x="326.7" y="53.3" font-size="10.5" text-anchor="start" font-style="italic">c</text><text x="351.3" y="58.5" font-size="14.4" text-anchor="start" >0.5</text><text x="375.9" y="58.5" font-size="13.6" text-anchor="start" >eV</text><text x="200.1" y="112.9" font-size="15" text-anchor="start" textLength="27.3" lengthAdjust="spacing" >PES</text><text x="229.5" y="107.5" font-size="10.5" text-anchor="start" font-style="italic">b</text><text x="298.1" y="119.7" font-size="15" text-anchor="start" textLength="33" lengthAdjust="spacing" >IPES</text><text x="334.5" y="114.5" font-size="10.5" text-anchor="start" font-style="italic">d</text><text x="358.9" y="119.7" font-size="14.1" text-anchor="start" >0.3</text><text x="383.2" y="119.7" font-size="14.2" text-anchor="start" >eV</text><text x="167" y="171.3" font-size="14.5" text-anchor="start" font-style="italic">G</text><text x="178.3" y="173.6" font-size="9.5" text-anchor="start" >0</text><text x="185.6" y="171.3" font-size="15.5" text-anchor="start" font-style="italic">W</text><text x="199.8" y="173.6" font-size="9.5" text-anchor="start" >0</text><text x="216.7" y="218.1" font-size="13.5" text-anchor="start" textLength="20.3" lengthAdjust="spacing" >val.</text><text x="246.4" y="218.1" font-size="13.5" text-anchor="start" textLength="58.6" lengthAdjust="spacing" >threshold</text><text x="306.5" y="213.5" font-size="9.5" text-anchor="start" font-style="italic">e</text></g>
</svg>
</body></html>
